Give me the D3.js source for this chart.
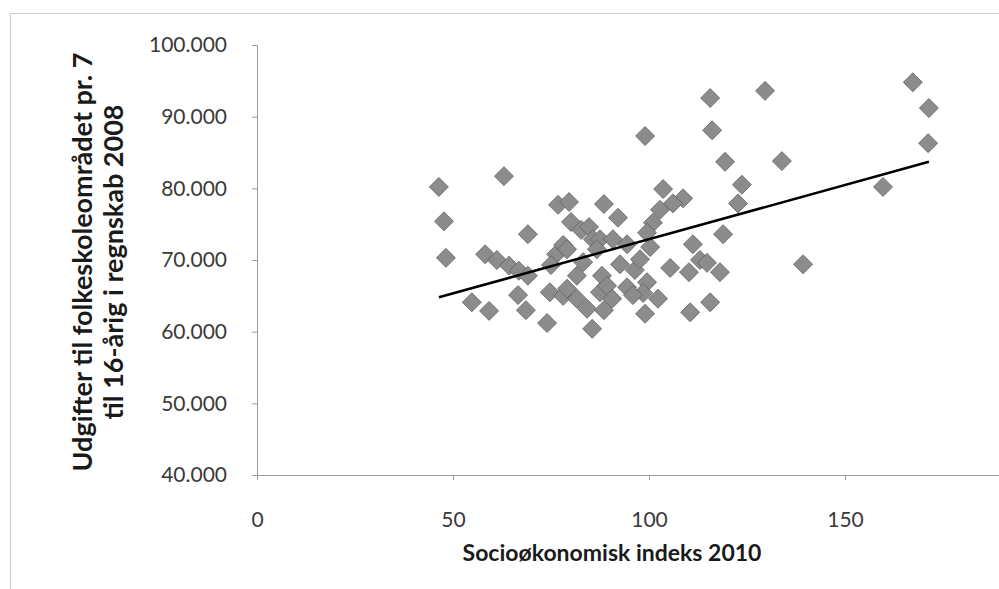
<!DOCTYPE html>
<html>
<head>
<meta charset="utf-8">
<script src="https://cdn.jsdelivr.net/npm/d3@7"></script>
<style>
  html, body { margin: 0; padding: 0; background: #fff; }
  svg { display: block; }
</style>
</head>
<body>
<div id="chart"></div>
<script>
// ---- Data ----
const indeks = [46.4, 47.7, 48.2, 63.0, 69.1, 54.8, 59.2, 58.2, 61.2, 64.3,
  66.8, 69.1, 66.6, 68.6, 74.0, 76.3, 78.1, 75.0, 76.8, 79.6,
  80.1, 82.7, 84.7, 85.7, 88.5, 87.5, 86.7, 81.6, 88.0, 74.7,
  78.1, 81.6, 84.2, 88.5, 85.5, 119.4, 123.7, 122.7, 133.9, 118.9,
  103.6, 108.7, 106.1, 102.8, 101.0, 99.5, 92.1, 90.8, 94.4, 100.3,
  111.2, 113.0, 114.8, 118.1, 110.2, 105.4, 96.4, 99.5, 98.5, 94.4,
  95.9, 87.5, 99.0, 110.5, 115.6, 99.0, 115.6, 116.1, 129.6, 167.3,
  171.4, 171.2, 159.7, 139.3, 97.7, 79.1, 79.1, 89.3, 92.6, 83.2,
  90.6, 102.3];
const udgifter = [80200, 75400, 70300, 81700, 73600, 64100, 62900, 70800, 70000, 69200,
  68500, 67800, 65100, 63000, 61200, 70800, 72100, 69300, 77700, 78100,
  75300, 74200, 74600, 72900, 77800, 72900, 71500, 67800, 67800, 65500,
  65000, 64600, 63200, 63000, 60400, 83700, 80500, 77900, 83800, 73600,
  79900, 78600, 77900, 77000, 75200, 73800, 75900, 72900, 72200, 71800,
  72200, 70000, 69600, 68300, 68300, 68900, 68600, 66900, 65400, 66200,
  65100, 65500, 62500, 62700, 64100, 87300, 92600, 88100, 93600, 94800,
  91200, 86300, 80200, 69400, 70100, 71500, 66000, 66400, 69400, 69700,
  64600, 64600];
// Linear trend line endpoints (as drawn in the reference)
const trendX = [46.4, 171.4];
const trendY = [64800, 83700];
// Axis ticks
const xTicks = [0, 50, 100, 150];
const yTicks = [40000, 50000, 60000, 70000, 80000, 90000, 100000];
const xTitle = "Socioøkonomisk indeks 2010";
const yTitleLines = ["Udgifter til folkeskoleområdet pr. 7", "til 16-årig i regnskab 2008"];

// ---- Drawing ----
const W = 999, H = 589;
const svg = d3.select("#chart").append("svg").attr("width", W).attr("height", H);
const font = "Lato, 'Open Sans', sans-serif";

// outer chart frame (dotted)
svg.append("rect")
  .attr("x", 10.5).attr("y", 13.5).attr("width", 1100).attr("height", 700)
  .attr("fill", "none").attr("stroke", "#9a9a9a").attr("stroke-width", 1)
  .attr("stroke-dasharray", "1,1");

const x = d3.scaleLinear().domain([0, 200]).range([257, 1041]);
const y = d3.scaleLinear().domain([40000, 100000]).range([475, 45]);

const fmtY = d => (d / 1000).toFixed(3);

// Y axis
const yAxis = svg.append("g").attr("transform", `translate(${x(0)},0)`)
  .call(d3.axisLeft(y).tickValues(yTicks).tickSize(5).tickPadding(25).tickFormat(fmtY));
yAxis.select(".domain").attr("stroke", "#9a9a9a");
yAxis.selectAll(".tick line").attr("stroke", "#9a9a9a");
yAxis.selectAll(".tick text").attr("font-family", font).attr("font-size", 21).attr("fill", "#3a3a3a");

// X axis
const xAxis = svg.append("g").attr("transform", `translate(0,${y(40000)})`)
  .call(d3.axisBottom(x).tickValues(xTicks).tickSize(5).tickPadding(32).tickFormat(d3.format("d")));
xAxis.select(".domain").attr("stroke", "#9a9a9a");
xAxis.selectAll(".tick line").attr("stroke", "#9a9a9a");
xAxis.selectAll(".tick text").attr("font-family", font).attr("font-size", 21).attr("fill", "#3a3a3a");

// points (diamonds)
const pts = d3.range(indeks.length).map(i => ({ x: indeks[i], y: udgifter[i] }));
const sym = d3.symbol().type(d3.symbolDiamond2).size(230);
svg.append("g").selectAll("path").data(pts).join("path")
  .attr("d", sym)
  .attr("transform", d => `translate(${x(d.x)},${y(d.y)})`)
  .attr("fill", "#8c8c8c").attr("stroke", "#5f5f5f").attr("stroke-width", 0.8);

// trend line
svg.append("line")
  .attr("x1", x(trendX[0])).attr("y1", y(trendY[0]))
  .attr("x2", x(trendX[1])).attr("y2", y(trendY[1]))
  .attr("stroke", "#000").attr("stroke-width", 2.5);

// X title
svg.append("text").attr("x", 612).attr("y", 561).attr("text-anchor", "middle")
  .attr("font-family", font).attr("font-weight", "bold").attr("font-size", 23)
  .attr("fill", "#1a1a1a").text(xTitle);

// Y title
const yt = svg.append("text").attr("transform", "translate(0,262) rotate(-90)")
  .attr("text-anchor", "middle").attr("font-family", font).attr("font-weight", "bold")
  .attr("font-size", 27).attr("fill", "#1a1a1a");
yt.append("tspan").attr("x", 0).attr("y", 92).text(yTitleLines[0]);
yt.append("tspan").attr("x", 0).attr("y", 123).text(yTitleLines[1]);
</script>
</body>
</html>
